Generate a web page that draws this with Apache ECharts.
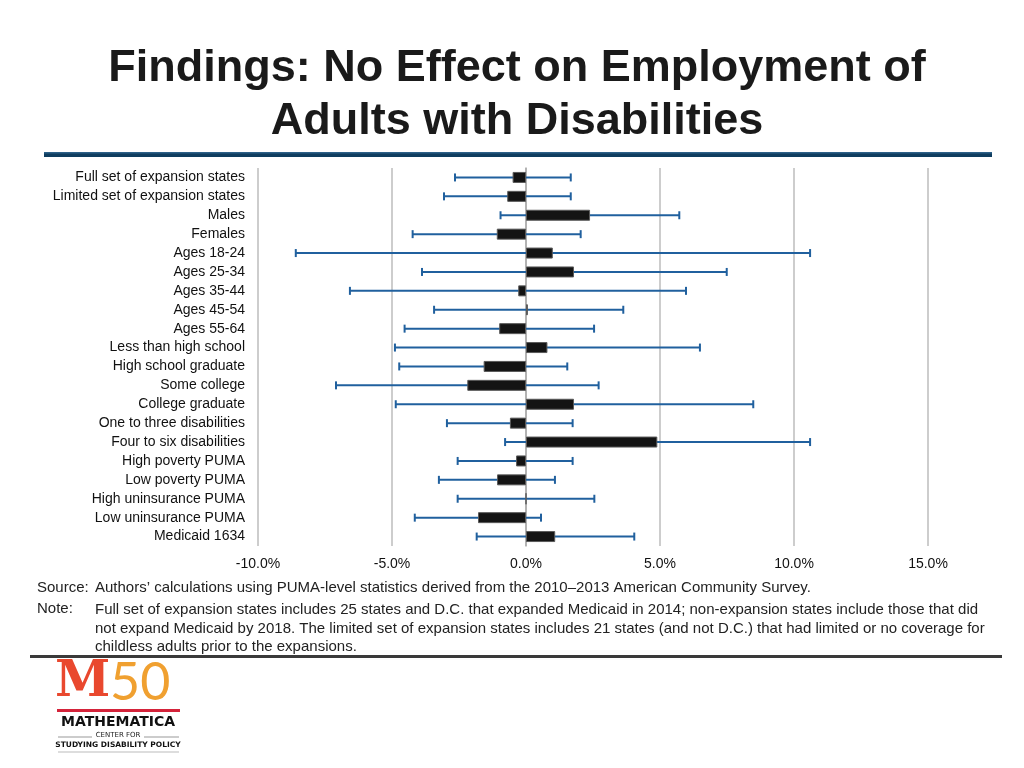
<!DOCTYPE html>
<html>
<head>
<meta charset="utf-8">
<script src="https://cdn.jsdelivr.net/npm/echarts@6/dist/echarts.min.js"></script>
<style>
html,body{margin:0;padding:0;background:#fff;}
#chart{width:1024px;height:768px;}
</style>
</head>
<body>
<div id="chart"></div>
<script>
const categories = [
  'Full set of expansion states','Limited set of expansion states','Males','Females',
  'Ages 18-24','Ages 25-34','Ages 35-44','Ages 45-54','Ages 55-64',
  'Less than high school','High school graduate','Some college','College graduate',
  'One to three disabilities','Four to six disabilities','High poverty PUMA','Low poverty PUMA',
  'High uninsurance PUMA','Low uninsurance PUMA','Medicaid 1634'
];
const estimates = [-0.50, -0.70, 2.39, -1.09, 1.00, 1.79, -0.29, 0.07, -1.00, 0.80, -1.58, -2.19, 1.79, -0.60, 4.90, -0.37, -1.08, 0.00, -1.79, 1.09];
const lowerCI   = [-2.65, -3.06, -0.95, -4.23, -8.59, -3.88, -6.57, -3.43, -4.53, -4.89, -4.73, -7.09, -4.86, -2.95, -0.78, -2.55, -3.25, -2.55, -4.15, -1.84];
const upperCI   = [1.67, 1.67, 5.72, 2.04, 10.60, 7.49, 5.97, 3.63, 2.54, 6.49, 1.54, 2.71, 8.48, 1.74, 10.60, 1.74, 1.08, 2.55, 0.56, 4.04];
const xTicks = {min: -10, max: 15, interval: 5};

const titleLines = ['Findings: No Effect on Employment of', 'Adults with Disabilities'];
const sourceText = 'Authors\u2019 calculations using PUMA-level statistics derived from the 2010\u20132013 American Community Survey.';
const noteLines = [
  'Full set of expansion states includes 25 states and D.C. that expanded Medicaid in 2014; non-expansion states include those that did',
  'not expand Medicaid by 2018. The limited set of expansion states includes 21 states (and not D.C.) that had limited or no coverage for',
  'childless adults prior to the expansions.'
];

const errData = categories.map((c, i) => [lowerCI[i], upperCI[i], i]);
const FONT = 'Liberation Sans, Arial, sans-serif';

const chart = echarts.init(document.getElementById('chart'), null, {renderer: 'canvas'});
chart.setOption({
  backgroundColor: '#fff',
  animation: false,
  textStyle: {fontFamily: FONT},
  grid: {left: 258, right: 96, top: 168, height: 378, containLabel: false},
  xAxis: {
    type: 'value', min: xTicks.min, max: xTicks.max, interval: xTicks.interval,
    axisLine: {show: false}, axisTick: {show: false},
    splitLine: {show: true, lineStyle: {color: '#bdbdbd', width: 1.5}},
    axisLabel: {color: '#111', fontSize: 14, margin: 11, fontFamily: FONT,
      formatter: v => v.toFixed(1) + '%'}
  },
  yAxis: {
    type: 'category', data: categories, inverse: true,
    axisLine: {show: true, lineStyle: {color: '#aaaaaa', width: 1.5}},
    axisTick: {show: false},
    axisLabel: {color: '#111', fontSize: 14, margin: 13, fontFamily: FONT}
  },
  series: [
    {
      type: 'custom', z: 2,
      encode: {x: [0, 1], y: 2},
      data: errData,
      renderItem: function (params, api) {
        const idx = api.value(2);
        const lo = api.coord([api.value(0), idx]);
        const hi = api.coord([api.value(1), idx]);
        const h = 4;
        const st = {stroke: '#20609e', lineWidth: 2};
        return {type: 'group', children: [
          {type: 'line', shape: {x1: lo[0], y1: lo[1], x2: hi[0], y2: hi[1]}, style: st},
          {type: 'line', shape: {x1: lo[0], y1: lo[1] - h, x2: lo[0], y2: lo[1] + h}, style: st},
          {type: 'line', shape: {x1: hi[0], y1: hi[1] - h, x2: hi[0], y2: hi[1] + h}, style: st}
        ]};
      }
    },
    {
      type: 'bar', z: 3, data: estimates, barWidth: 11,
      itemStyle: {color: '#141414', borderColor: '#5a5a5a', borderWidth: 1}
    }
  ],
  graphic: [
    {type: 'text', x: 517, y: 42, style: {text: titleLines.join('\n'), font: 'bold 45px ' + FONT, fill: '#1a1a1a', align: 'center', textAlign: 'center', lineHeight: 53}},
    {type: 'rect', shape: {x: 44, y: 152, width: 948, height: 5}, style: {fill: '#0f3d5f'}},
    {type: 'rect', shape: {x: 44, y: 152, width: 948, height: 1.5}, style: {fill: '#2d6088'}},
    {type: 'text', x: 37, y: 580, style: {text: 'Source:', font: '15px ' + FONT, fill: '#222'}},
    {type: 'text', x: 95, y: 580, style: {text: sourceText, font: '15px ' + FONT, fill: '#222'}},
    {type: 'text', x: 37, y: 601, style: {text: 'Note:', font: '15px ' + FONT, fill: '#222'}},
    {type: 'text', x: 95, y: 601, style: {text: noteLines.join('\n'), font: '15px ' + FONT, fill: '#222', lineHeight: 18.5}},
    {type: 'rect', shape: {x: 30, y: 655, width: 972, height: 3}, style: {fill: '#3a3a3a'}},
    // logo
    {type: 'text', x: 55, y: 658, style: {text: 'M', font: 'bold 50px DejaVu Serif, serif', fill: '#e9482e'}},
    {type: 'text', x: 110, y: 657, style: {text: '50', font: '52px Lato, sans-serif', fill: '#f0a030'}},
    {type: 'rect', shape: {x: 57, y: 709, width: 123, height: 3}, style: {fill: '#d4233a'}},
    {type: 'text', x: 118, y: 715, style: {text: 'MATHEMATICA', font: 'bold 14px DejaVu Sans, sans-serif', fill: '#111', align: 'center', textAlign: 'center'}},
    {type: 'line', shape: {x1: 58, y1: 737, x2: 92, y2: 737}, style: {stroke: '#999', lineWidth: 1}},
    {type: 'line', shape: {x1: 144, y1: 737, x2: 179, y2: 737}, style: {stroke: '#999', lineWidth: 1}},
    {type: 'text', x: 118, y: 732, style: {text: 'CENTER FOR', font: '7px DejaVu Sans, sans-serif', fill: '#222', align: 'center', textAlign: 'center'}},
    {type: 'text', x: 118, y: 741, style: {text: 'STUDYING DISABILITY POLICY', font: 'bold 7.5px DejaVu Sans, sans-serif', fill: '#111', align: 'center', textAlign: 'center'}},
    {type: 'line', shape: {x1: 58, y1: 752, x2: 179, y2: 752}, style: {stroke: '#bbb', lineWidth: 1}}
  ]
});
</script>
</body>
</html>
